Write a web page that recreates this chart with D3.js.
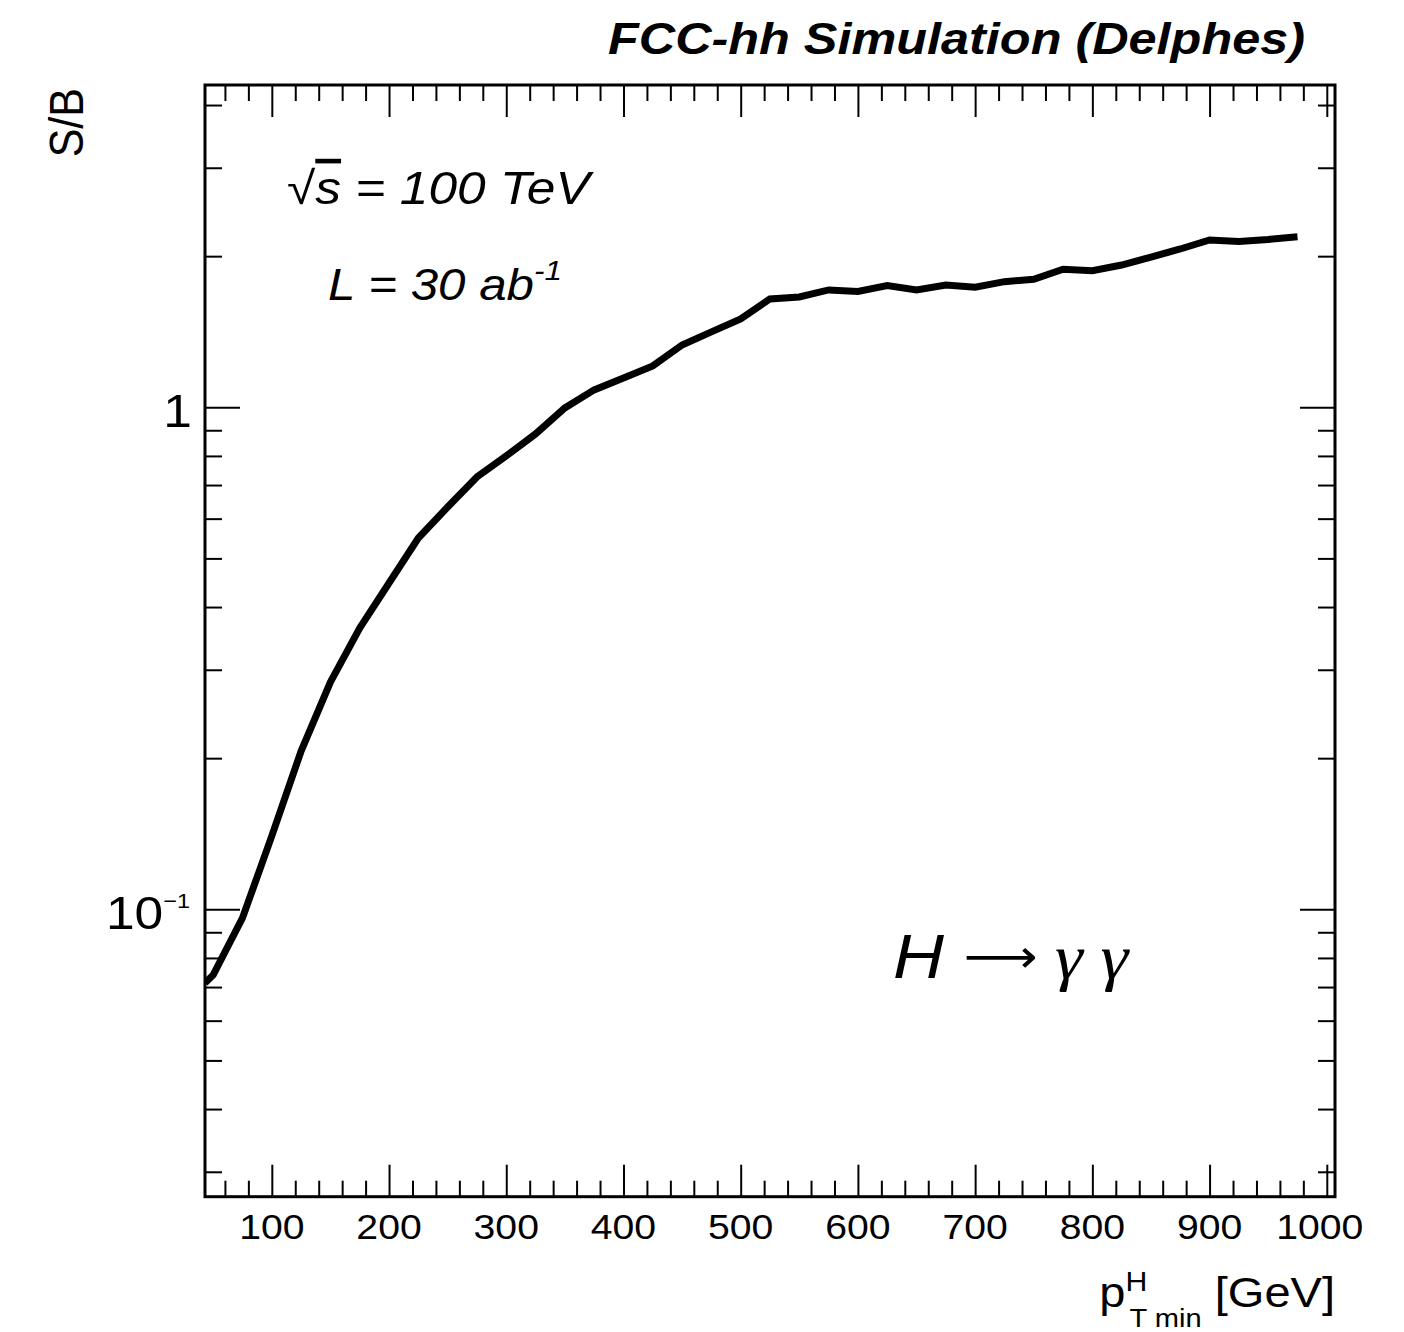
<!DOCTYPE html>
<html><head><meta charset="utf-8">
<script src="https://cdn.jsdelivr.net/npm/d3@7"></script>
<style>body{margin:0;background:#fff}svg{display:block}</style>
</head><body><svg id="c" width="1404" height="1332"></svg>
<script>
// ---- data ----
const ptMin = [43,50,75,100,125,150,175,200,225,250,275,300,325,350,375,400,425,450,475,500,525,550,575,600,625,650,675,700,725,750,775,800,825,850,875,900,925,950,975];
const sOverB = [0.0713,0.0740,0.0961,0.140,0.2066,0.2836,0.3634,0.4467,0.5491,0.633,0.7264,0.800,0.885,0.997,1.083,1.144,1.209,1.331,1.413,1.500,1.644,1.659,1.713,1.701,1.747,1.713,1.752,1.734,1.779,1.799,1.883,1.871,1.920,1.992,2.067,2.154,2.138,2.159,2.187];
const xMajorTicks = [100,200,300,400,500,600,700,800,900,1000];
const xTickLabels = ["100","200","300","400","500","600","700","800","900","1000"];
const xMinorTicks = d3.range(60,1001,20).filter(v => v % 100 !== 0);
const yMajorTicks = [0.1,1];
const yTickLabels = [["10","\u22121"],["1",null]];
const yMinorTicks = [0.03,0.04,0.05,0.06,0.07,0.08,0.09,0.2,0.3,0.4,0.5,0.6,0.7,0.8,0.9,2,3,4];

// ---- layout ----
const L = 205, R = 1335, T = 85, B = 1196.7;
const SX = 1.12;
const FONT = "'Liberation Sans', Arial, Helvetica, sans-serif";

const svg = d3.select("#c");
const x = d3.scaleLinear().domain([43,1007]).range([L,R]);
const y = d3.scaleLog().domain([0.02676,4.385]).range([B,T]);

svg.append("defs").append("clipPath").attr("id","clip")
  .append("rect").attr("x",L).attr("y",T).attr("width",R-L).attr("height",B-T);

function tickAxis(gen, tr, vals, size){
  const g = svg.append("g").attr("transform",tr)
    .call(gen.tickValues(vals).tickSize(size).tickFormat(""));
  g.select(".domain").remove();
  g.selectAll(".tick line").attr("stroke","#000").attr("stroke-width",2);
  return g;
}
// bottom
tickAxis(d3.axisBottom(x), `translate(0,${B})`, xMajorTicks, -32);
tickAxis(d3.axisBottom(x), `translate(0,${B})`, xMinorTicks, -16);
// top
tickAxis(d3.axisTop(x), `translate(0,${T})`, xMajorTicks, -32);
tickAxis(d3.axisTop(x), `translate(0,${T})`, xMinorTicks, -16);
// left
tickAxis(d3.axisLeft(y), `translate(${L},0)`, yMajorTicks, -35);
tickAxis(d3.axisLeft(y), `translate(${L},0)`, yMinorTicks, -17);
// right
tickAxis(d3.axisRight(y), `translate(${R},0)`, yMajorTicks, -35);
tickAxis(d3.axisRight(y), `translate(${R},0)`, yMinorTicks, -17);

// frame
svg.append("rect").attr("x",L).attr("y",T).attr("width",R-L).attr("height",B-T)
  .attr("fill","none").attr("stroke","#000").attr("stroke-width",3);

// curve
const line = d3.line().x((d,i)=>x(ptMin[i])).y(d=>y(d));
svg.append("path").datum(sOverB).attr("clip-path","url(#clip)")
  .attr("d",line).attr("fill","none").attr("stroke","#000")
  .attr("stroke-width",7).attr("stroke-linejoin","miter");

// text helper with horizontal stretch
function txt(px, py, opts){
  const g = svg.append("g").attr("transform",`translate(${px},${py}) scale(${SX},1)` + (opts.rotate?` rotate(${opts.rotate})`:""));
  const t = g.append("text").attr("x",0).attr("y",0)
    .attr("font-family",opts.family||FONT).attr("font-size",opts.size)
    .attr("text-anchor",opts.anchor||"start")
    .attr("font-style",opts.italic?"italic":"normal")
    .attr("font-weight",opts.bold?"bold":"normal").attr("fill","#000");
  return t;
}

// x tick labels
xMajorTicks.forEach((v,i)=>{
  txt(x(v) - (i===xMajorTicks.length-1?7:0), 1239, {size:35, anchor:"middle"}).text(xTickLabels[i]);
});
// y tick labels
yMajorTicks.forEach((v,i)=>{
  const [base, sup] = yTickLabels[i];
  const t = txt(sup ? 190 : 192, y(v)+20, {size:46, anchor:"end"});
  t.append("tspan").text(base);
  if(sup) t.append("tspan").attr("dy",-21).attr("font-size",21).text(sup);
});

// title
txt(1305, 54, {size:45, anchor:"end", bold:true, italic:true}).text("FCC-hh Simulation (Delphes)");

// y axis title
txt(83, 88, {size:43, anchor:"end", rotate:-90}).text("S/B");

// x axis title
{
  const t = txt(1335, 1307, {size:42, anchor:"end"});
  t.append("tspan").text("p");
  t.append("tspan").attr("dy",-16).attr("font-size",27).text("H");
  t.append("tspan").attr("dx",-16).attr("dy",36).attr("font-size",26).text("T min");
  t.append("tspan").attr("dy",-20).text(" [GeV]");
}

// annotations
{
  const t = txt(287, 204, {size:46, italic:true});
  t.append("tspan").attr("font-style","normal").text("\u221A");
  t.append("tspan").attr("text-decoration","overline").text("s");
  t.append("tspan").text(" = 100 TeV");
}
{
  const t = txt(328, 300, {size:44, italic:true});
  t.append("tspan").text("L = 30  ab");
  t.append("tspan").attr("dy",-20).attr("font-size",28).text("-1");
}
{
  const t = txt(893, 978, {size:63, italic:true});
  t.append("tspan").text("H ");
  t.append("tspan").attr("font-style","normal").attr("font-family","'DejaVu Sans', sans-serif").attr("font-size",46).attr("dy",-6).text("\u27F6");
  t.append("tspan").attr("font-family","'Liberation Serif', serif").attr("dy",6).text(" \u03B3 \u03B3");
}
</script></body></html>
